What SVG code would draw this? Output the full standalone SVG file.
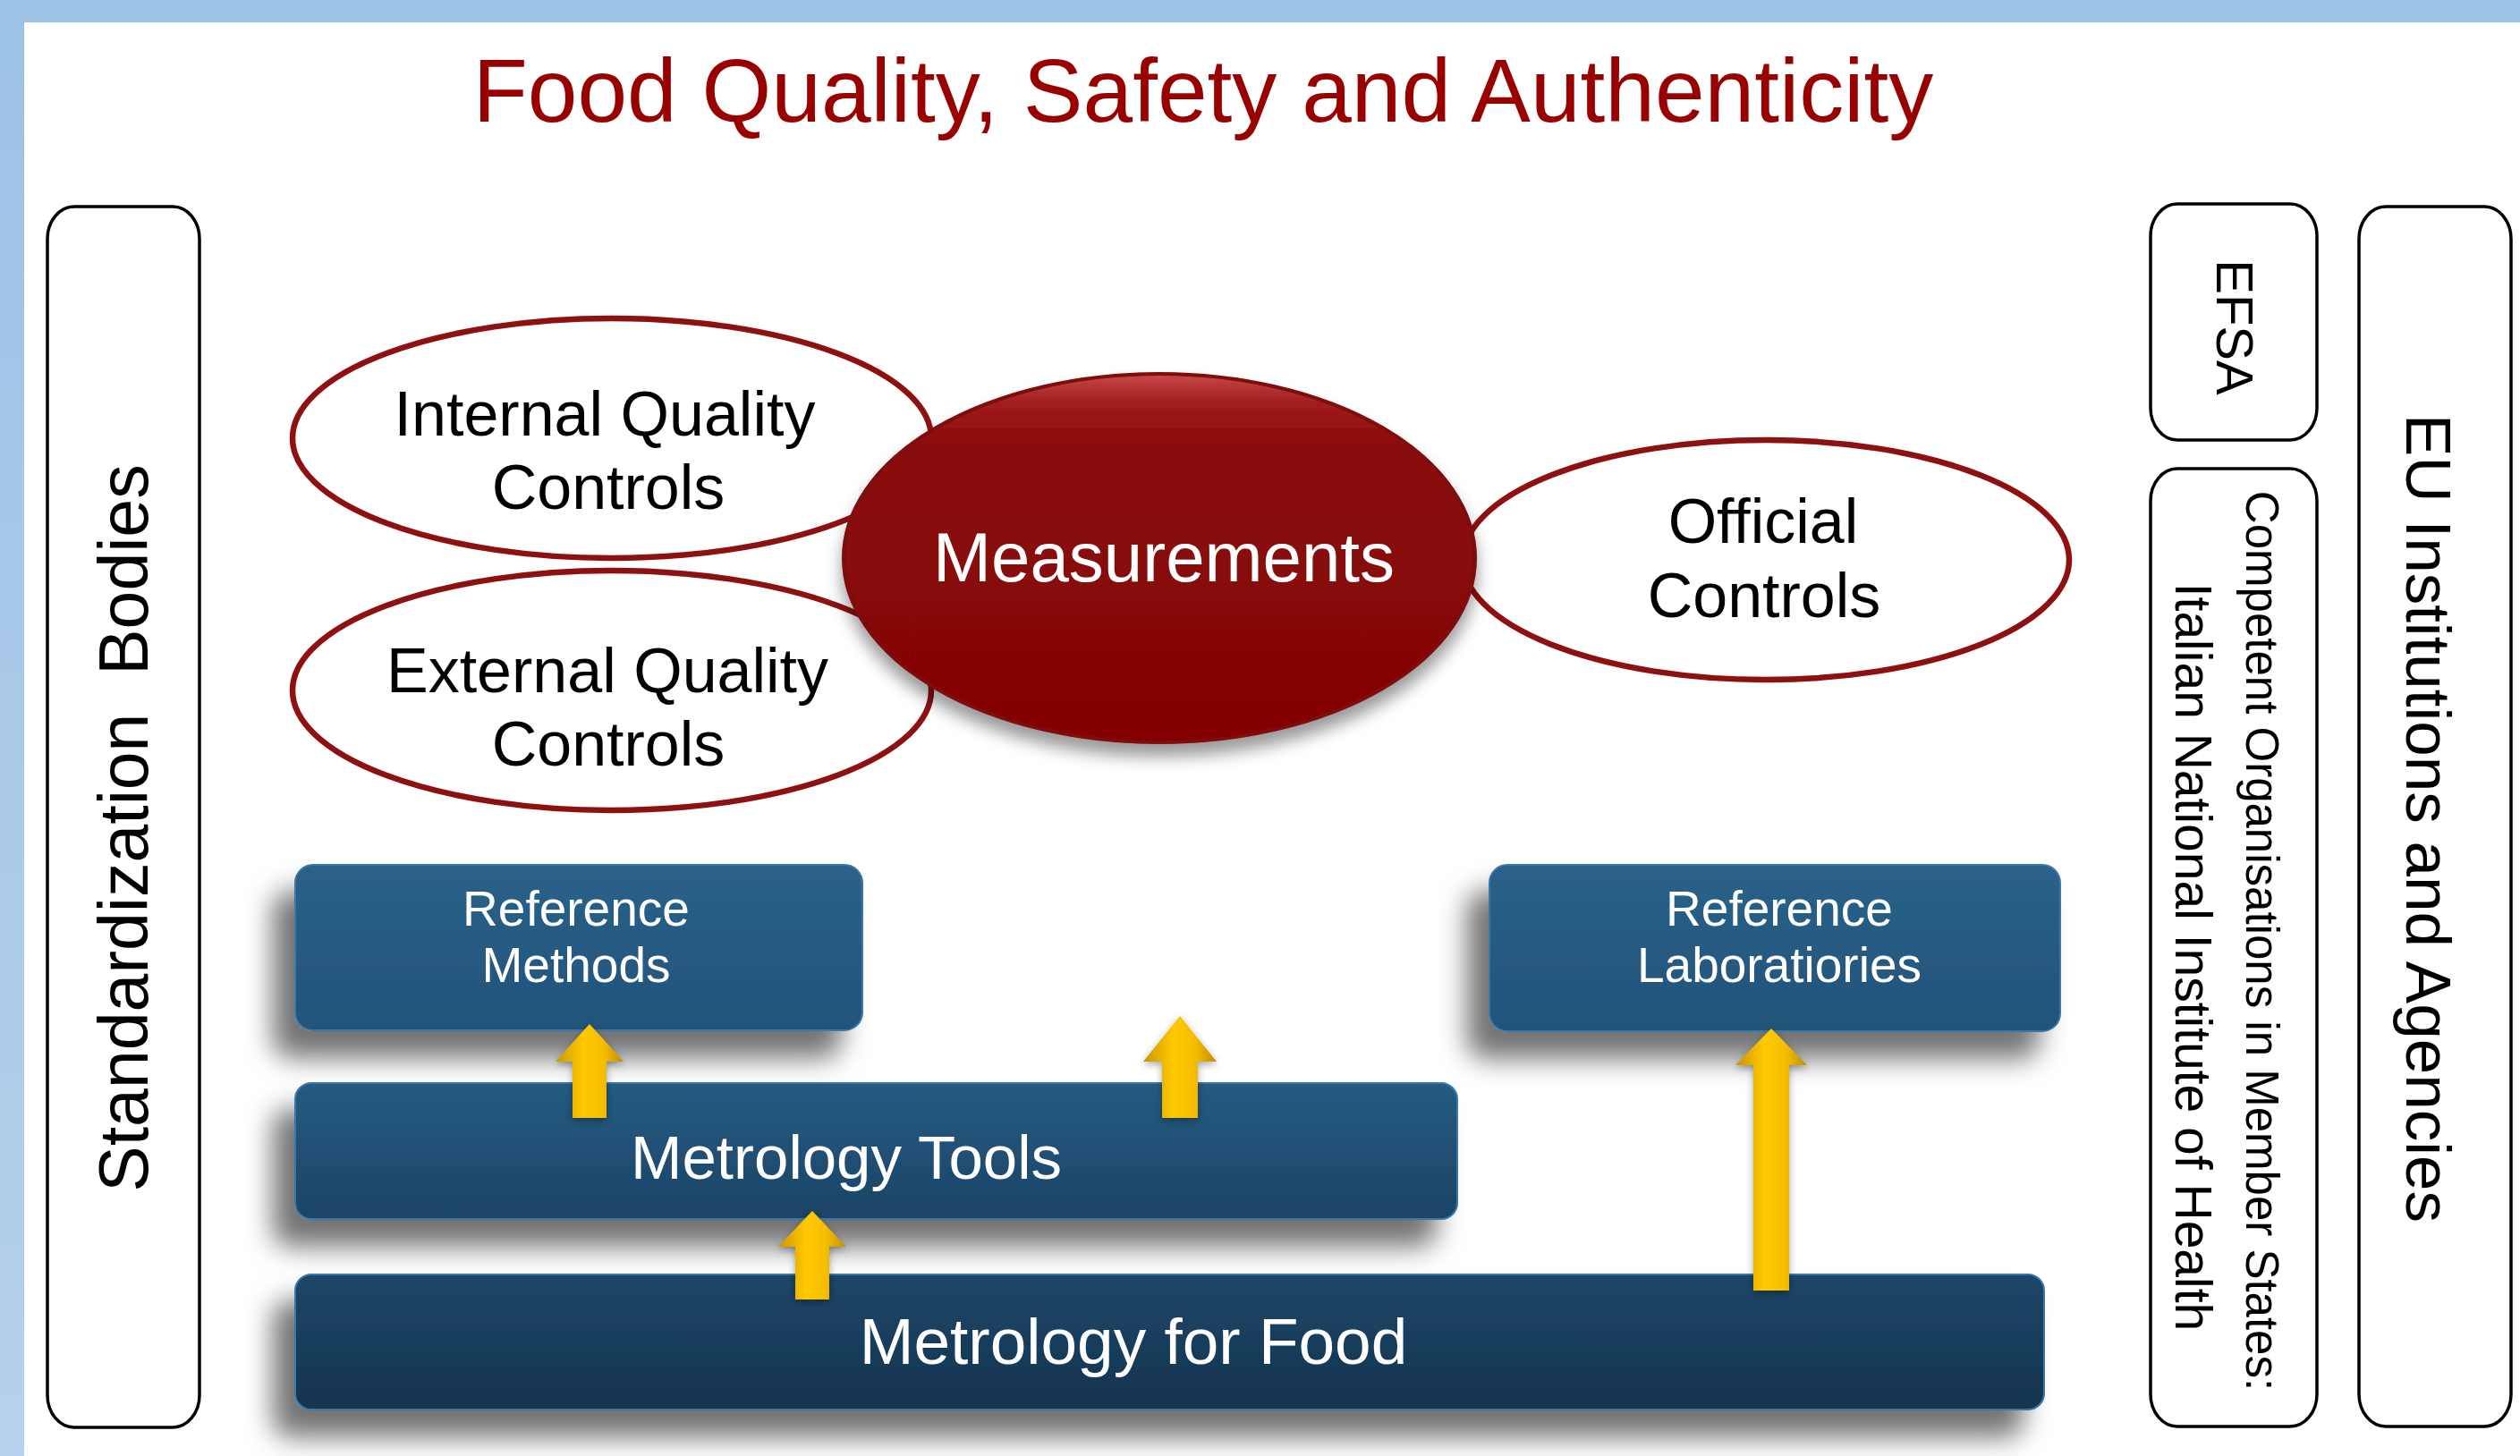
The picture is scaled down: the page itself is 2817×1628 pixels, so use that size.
<svg xmlns="http://www.w3.org/2000/svg" width="2817" height="1628" viewBox="0 0 2817 1628">
<style>
text { font-family: "Liberation Sans", Arial, sans-serif; }
.title { font-size: 100px; fill: #990000; }
.side { fill: #ffffff; stroke: #000000; stroke-width: 3.5; }
.sideTxt { fill: #000000; }
.oval { fill: #ffffff; stroke: #8E1010; stroke-width: 6.5; }
.ovalTxt { font-size: 70px; fill: #000000; text-anchor: middle; }
.boxTxt { fill: #ffffff; text-anchor: middle; }
.boxEdge { stroke: #3B78A8; stroke-width: 2; }
</style>
<defs>
  <linearGradient id="leftBand" x1="0" y1="0" x2="0" y2="1">
    <stop offset="0" stop-color="#9CC2E6"/>
    <stop offset="1" stop-color="#B6D1EB"/>
  </linearGradient>
  <linearGradient id="measFill" x1="0" y1="0" x2="0" y2="1">
    <stop offset="0" stop-color="#C84848"/>
    <stop offset="0.08" stop-color="#A01C1C"/>
    <stop offset="0.2" stop-color="#8A0909"/>
    <stop offset="1" stop-color="#840505"/>
  </linearGradient>
  <linearGradient id="boxLight" x1="0" y1="0" x2="0" y2="1">
    <stop offset="0" stop-color="#2A628A"/>
    <stop offset="1" stop-color="#22537A"/>
  </linearGradient>
  <linearGradient id="boxMid" x1="0" y1="0" x2="0" y2="1">
    <stop offset="0" stop-color="#255B81"/>
    <stop offset="1" stop-color="#1C4466"/>
  </linearGradient>
  <linearGradient id="boxDark" x1="0" y1="0" x2="0" y2="1">
    <stop offset="0" stop-color="#1D4668"/>
    <stop offset="1" stop-color="#15344F"/>
  </linearGradient>
  <linearGradient id="arrowGrad" x1="0" y1="0" x2="1" y2="0">
    <stop offset="0" stop-color="#C99600"/>
    <stop offset="0.4" stop-color="#FFC800"/>
    <stop offset="0.7" stop-color="#F6BE00"/>
    <stop offset="1" stop-color="#BF8E00"/>
  </linearGradient>
  <filter id="boxShadow" x="-20%" y="-40%" width="140%" height="200%">
    <feGaussianBlur in="SourceAlpha" stdDeviation="15"/>
    <feOffset dx="-24" dy="30" result="b"/>
    <feFlood flood-color="#000000" flood-opacity="0.55"/>
    <feComposite in2="b" operator="in"/>
    <feMerge><feMergeNode/><feMergeNode in="SourceGraphic"/></feMerge>
  </filter>
  <filter id="ellShadow" x="-20%" y="-20%" width="140%" height="150%">
    <feGaussianBlur in="SourceAlpha" stdDeviation="9"/>
    <feOffset dx="0" dy="14" result="b"/>
    <feFlood flood-color="#000000" flood-opacity="0.4"/>
    <feComposite in2="b" operator="in"/>
    <feMerge><feMergeNode/><feMergeNode in="SourceGraphic"/></feMerge>
  </filter>
  <filter id="arrowShadow" x="-50%" y="-20%" width="200%" height="140%">
    <feGaussianBlur in="SourceAlpha" stdDeviation="4"/>
    <feOffset dx="0" dy="3" result="b"/>
    <feFlood flood-color="#000000" flood-opacity="0.35"/>
    <feComposite in2="b" operator="in"/>
    <feMerge><feMergeNode/><feMergeNode in="SourceGraphic"/></feMerge>
  </filter>
</defs>

<rect x="0" y="0" width="2817" height="1628" fill="#ffffff"/>
<rect x="0" y="0" width="27" height="1628" fill="url(#leftBand)"/>
<rect x="0" y="0" width="2817" height="25" fill="#9CC2E6"/>

<text class="title" x="1345" y="136" text-anchor="middle">Food Quality, Safety and Authenticity</text>

<g id="standardization-bodies">
  <rect class="side" x="53" y="231" width="170" height="1365" rx="30" ry="36"/>
  <text class="sideTxt" font-size="77" text-anchor="middle" xml:space="preserve" transform="translate(165,926) rotate(-90)">Standardization  Bodies</text>
</g>

<g id="efsa">
  <rect class="side" x="2404" y="228" width="186" height="264" rx="30" ry="36"/>
  <text class="sideTxt" font-size="58" text-anchor="middle" transform="translate(2478,366) rotate(90)">EFSA</text>
</g>

<g id="competent-organisations">
  <rect class="side" x="2404" y="524" width="186" height="1071" rx="30" ry="36"/>
  <text class="sideTxt" font-size="51" text-anchor="middle" transform="translate(2511,1052) rotate(90)">Competent Organisations in Member States:</text>
  <text class="sideTxt" font-size="57" text-anchor="middle" transform="translate(2432,1070) rotate(90)">Italian National Institute of Health</text>
</g>

<g id="eu-institutions">
  <rect class="side" x="2637" y="231" width="170" height="1364" rx="30" ry="36"/>
  <text class="sideTxt" font-size="71" text-anchor="middle" transform="translate(2690,915) rotate(90)">EU Institutions and Agencies</text>
</g>

<g id="internal-quality-controls">
  <ellipse class="oval" cx="684" cy="490" rx="357" ry="134"/>
  <text class="ovalTxt" x="676" y="487">Internal Quality</text>
  <text class="ovalTxt" x="680" y="569">Controls</text>
</g>

<g id="external-quality-controls">
  <ellipse class="oval" cx="684" cy="772" rx="357" ry="134"/>
  <text class="ovalTxt" x="679" y="774">External Quality</text>
  <text class="ovalTxt" x="680" y="856">Controls</text>
</g>

<g id="official-controls">
  <ellipse class="oval" cx="1974" cy="626" rx="339" ry="134"/>
  <text class="ovalTxt" x="1971" y="607">Official</text>
  <text class="ovalTxt" x="1972" y="690">Controls</text>
</g>

<g id="measurements">
  <ellipse cx="1296" cy="624" rx="353" ry="206" fill="url(#measFill)" stroke="#7E0808" stroke-width="4" filter="url(#ellShadow)"/>
  <text x="1301" y="650" font-size="78" fill="#ffffff" text-anchor="middle">Measurements</text>
</g>

<g id="reference-methods">
  <rect class="boxEdge" x="330" y="967" width="634" height="185" rx="20" fill="url(#boxLight)" filter="url(#boxShadow)"/>
  <text class="boxTxt" x="644" y="1035" font-size="55">Reference</text>
  <text class="boxTxt" x="644" y="1098" font-size="55">Methods</text>
</g>

<g id="reference-laboratories">
  <rect class="boxEdge" x="1665" y="967" width="638" height="186" rx="20" fill="url(#boxLight)" filter="url(#boxShadow)"/>
  <text class="boxTxt" x="1989" y="1035" font-size="55">Reference</text>
  <text class="boxTxt" x="1989" y="1098" font-size="55">Laboratiories</text>
</g>

<g id="metrology-tools">
  <rect class="boxEdge" x="330" y="1211" width="1299" height="152" rx="18" fill="url(#boxMid)" filter="url(#boxShadow)"/>
  <text class="boxTxt" x="946" y="1318" font-size="69">Metrology Tools</text>
</g>

<g id="metrology-for-food">
  <rect class="boxEdge" x="330" y="1425" width="1955" height="151" rx="18" fill="url(#boxDark)" filter="url(#boxShadow)"/>
  <text class="boxTxt" x="1267" y="1525" font-size="73">Metrology for Food</text>
</g>

<g id="connectors" fill="url(#arrowGrad)" filter="url(#arrowShadow)">
  <path d="M659,1145 L697,1187 L678,1187 L678,1250 L640,1250 L640,1187 L621,1187 Z"/>
  <path d="M1319,1136 L1360,1187 L1339,1187 L1339,1250 L1299,1250 L1299,1187 L1278,1187 Z"/>
  <path d="M908,1354 L946,1394 L927,1394 L927,1453 L889,1453 L889,1394 L870,1394 Z"/>
  <path d="M1980,1150 L2020,1191 L2000,1191 L2000,1443 L1960,1443 L1960,1191 L1940,1191 Z"/>
</g>
</svg>
